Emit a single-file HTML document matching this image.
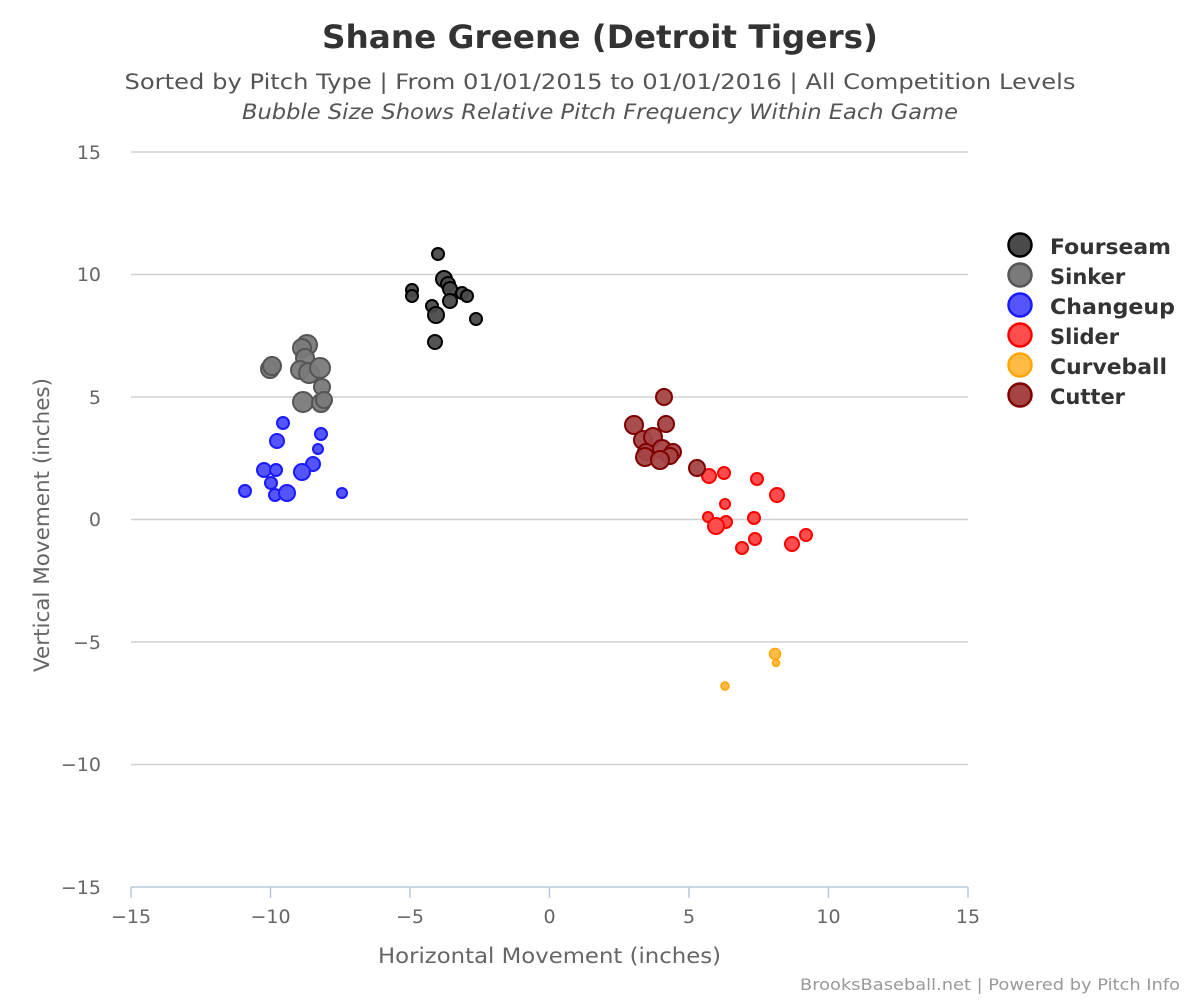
<!DOCTYPE html>
<html><head><meta charset="utf-8"><style>
html,body{margin:0;padding:0;background:#fff;}
svg{display:block;font-family:"DejaVu Sans","Liberation Sans",sans-serif;}
</style></head><body>
<svg width="1200" height="1000" viewBox="0 0 1200 1000" xmlns="http://www.w3.org/2000/svg">
<rect width="1200" height="1000" fill="#fff"/>
<text x="600" y="48" text-anchor="middle" font-size="32" font-weight="bold" fill="#333" textLength="556" lengthAdjust="spacingAndGlyphs">Shane Greene (Detroit Tigers)</text>
<text x="600" y="89" text-anchor="middle" font-size="21" fill="#555" textLength="951" lengthAdjust="spacingAndGlyphs">Sorted by Pitch Type | From 01/01/2015 to 01/01/2016 | All Competition Levels</text>
<text x="600" y="119" text-anchor="middle" font-size="21" font-style="italic" fill="#555" textLength="716" lengthAdjust="spacingAndGlyphs">Bubble Size Shows Relative Pitch Frequency Within Each Game</text>
<g stroke="#d0d0d0" stroke-width="1.5">
<line x1="131" x2="968" y1="152" y2="152"/><line x1="131" x2="968" y1="274.5" y2="274.5"/>
<line x1="131" x2="968" y1="397" y2="397"/><line x1="131" x2="968" y1="519.5" y2="519.5"/>
<line x1="131" x2="968" y1="642" y2="642"/><line x1="131" x2="968" y1="764.5" y2="764.5"/>
</g>
<g stroke="#b8c8dc" stroke-width="1.5">
<line x1="131" x2="968" y1="887" y2="887"/>
<line x1="131" x2="131" y1="887" y2="898"/><line x1="270.5" x2="270.5" y1="887" y2="898"/>
<line x1="410" x2="410" y1="887" y2="898"/><line x1="549.5" x2="549.5" y1="887" y2="898"/>
<line x1="689" x2="689" y1="887" y2="898"/><line x1="828.5" x2="828.5" y1="887" y2="898"/>
<line x1="968" x2="968" y1="887" y2="898"/>
</g>
<g font-size="19" fill="#666" text-anchor="end">
<text x="101" y="159">15</text><text x="101" y="281">10</text><text x="101" y="404">5</text>
<text x="101" y="526">0</text><text x="101" y="649">−5</text><text x="101" y="771">−10</text><text x="101" y="894">−15</text>
</g>
<g font-size="19" fill="#666" text-anchor="middle">
<text x="131" y="923">−15</text><text x="270.5" y="923">−10</text><text x="410" y="923">−5</text>
<text x="549.5" y="923">0</text><text x="689" y="923">5</text><text x="828.5" y="923">10</text><text x="968" y="923">15</text>
</g>
<text x="549.5" y="963" text-anchor="middle" font-size="21" fill="#666" textLength="343" lengthAdjust="spacingAndGlyphs">Horizontal Movement (inches)</text>
<text transform="translate(49,525) rotate(-90)" text-anchor="middle" font-size="21" fill="#666" textLength="294" lengthAdjust="spacingAndGlyphs">Vertical Movement (inches)</text>
<text x="1180" y="990" text-anchor="end" font-size="16" fill="#999" textLength="380" lengthAdjust="spacingAndGlyphs">BrooksBaseball.net | Powered by Pitch Info</text>

<g fill="#7a7a7a" fill-opacity="0.95" stroke="#555" stroke-width="2">
<circle cx="270" cy="369" r="9"/><circle cx="272" cy="366" r="9"/><circle cx="307" cy="345" r="10"/>
<circle cx="302" cy="348" r="9"/><circle cx="305" cy="358" r="9"/><circle cx="300" cy="370" r="9"/>
<circle cx="309" cy="373" r="10"/><circle cx="320" cy="368" r="10"/><circle cx="322" cy="387" r="8"/>
<circle cx="303" cy="402" r="10"/><circle cx="321" cy="403" r="9"/><circle cx="324" cy="400" r="8"/>
</g>
<g fill="#4a4a4a" fill-opacity="0.95" stroke="#000" stroke-width="2">
<circle cx="438" cy="254" r="6"/><circle cx="412" cy="290" r="6"/><circle cx="412" cy="296" r="6"/>
<circle cx="432" cy="306" r="6"/><circle cx="444" cy="279" r="8"/><circle cx="448" cy="284" r="7"/>
<circle cx="450" cy="289" r="7"/><circle cx="436" cy="315" r="8"/><circle cx="450" cy="301" r="7"/>
<circle cx="462" cy="293" r="6"/><circle cx="467" cy="296" r="6"/><circle cx="476" cy="319" r="6"/>
<circle cx="435" cy="342" r="7"/>
</g>
<g fill="#5555ff" stroke="#1a1aff" stroke-width="2">
<circle cx="283" cy="423" r="6"/><circle cx="277" cy="441" r="7"/><circle cx="321" cy="434" r="6"/>
<circle cx="318" cy="449" r="5"/><circle cx="264" cy="470" r="7"/><circle cx="276" cy="470" r="6"/>
<circle cx="313" cy="464" r="7"/><circle cx="302" cy="472" r="8"/><circle cx="271" cy="483" r="6"/>
<circle cx="245" cy="491" r="6"/><circle cx="275" cy="495" r="6"/><circle cx="287" cy="493" r="8"/>
<circle cx="342" cy="493" r="5"/>
</g>
<g fill="#ff4d4d" stroke="#ff0000" stroke-width="2">
<circle cx="709" cy="476" r="7"/><circle cx="724" cy="473" r="6"/><circle cx="757" cy="479" r="6"/>
<circle cx="777" cy="495" r="7"/><circle cx="725" cy="504" r="5"/><circle cx="708" cy="517" r="5"/>
<circle cx="726" cy="522" r="6"/><circle cx="716" cy="526" r="8"/><circle cx="754" cy="518" r="6"/>
<circle cx="806" cy="535" r="6"/><circle cx="755" cy="539" r="6"/><circle cx="742" cy="548" r="6"/>
<circle cx="792" cy="544" r="7"/>
</g>
<g fill="#ffbb44" stroke="#ffa500" stroke-width="1.5">
<circle cx="775" cy="654" r="5.5"/><circle cx="776" cy="663" r="3.5"/><circle cx="725" cy="686" r="4"/>
</g>
<g fill="#a44444" fill-opacity="0.95" stroke="#800000" stroke-width="2">
<circle cx="664" cy="397" r="8"/><circle cx="634" cy="425" r="9"/><circle cx="666" cy="424" r="8"/>
<circle cx="643" cy="440" r="9"/><circle cx="653" cy="437" r="9"/><circle cx="646" cy="452" r="8"/>
<circle cx="662" cy="449" r="9"/><circle cx="673" cy="452" r="8"/><circle cx="670" cy="456" r="8"/>
<circle cx="645" cy="457" r="9"/><circle cx="660" cy="460" r="9"/><circle cx="697" cy="468" r="8"/>
</g>

<g stroke-width="2.5">
<circle cx="1020" cy="245" r="11.5" fill="#4a4a4a" stroke="#000"/>
<circle cx="1020" cy="275" r="11.5" fill="#7a7a7a" stroke="#555"/>
<circle cx="1020" cy="305" r="11.5" fill="#5555ff" stroke="#1a1aff"/>
<circle cx="1020" cy="335" r="11.5" fill="#ff4d4d" stroke="#ff0000"/>
<circle cx="1020" cy="365" r="11.5" fill="#ffbb44" stroke="#ffa500"/>
<circle cx="1020" cy="395" r="11.5" fill="#a44444" stroke="#800000"/>
</g>
<g font-size="21" font-weight="bold" fill="#333">
<text x="1050" y="254" textLength="121" lengthAdjust="spacingAndGlyphs">Fourseam</text><text x="1050" y="284">Sinker</text>
<text x="1050" y="314" textLength="125" lengthAdjust="spacingAndGlyphs">Changeup</text><text x="1050" y="344">Slider</text>
<text x="1050" y="374" textLength="117" lengthAdjust="spacingAndGlyphs">Curveball</text><text x="1050" y="404">Cutter</text>
</g>
</svg>
</body></html>
